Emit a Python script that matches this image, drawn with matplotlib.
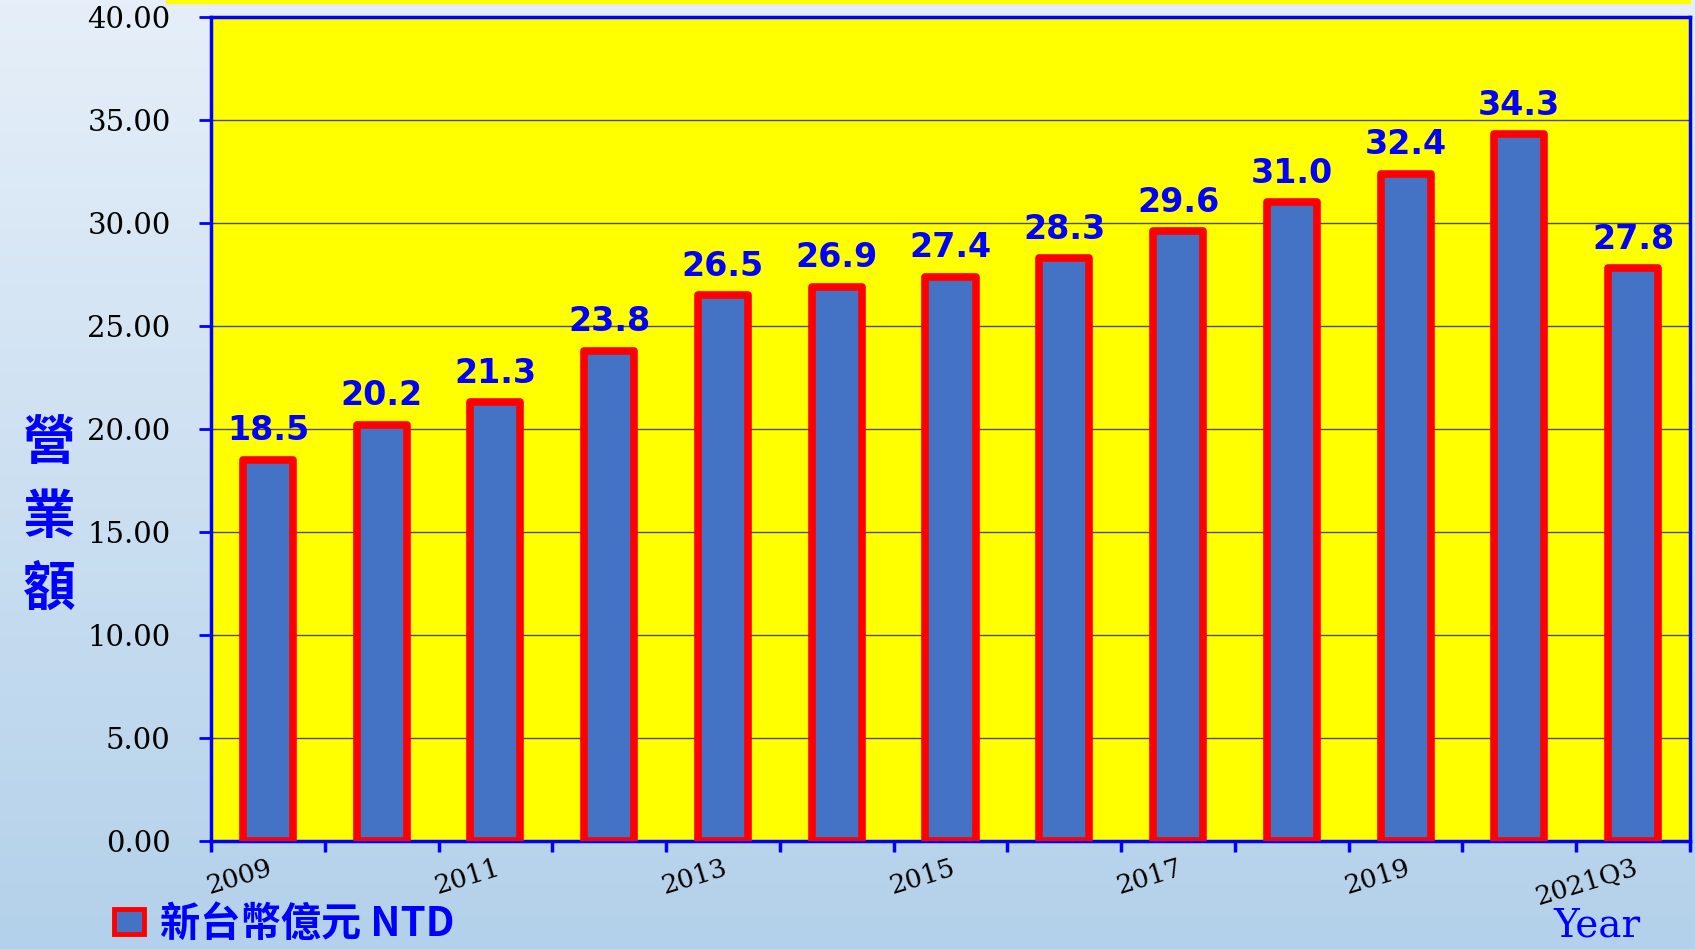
import numpy as np
import matplotlib
matplotlib.use("Agg")
import matplotlib.pyplot as plt
from matplotlib.patches import Patch, Rectangle
from matplotlib.ticker import FixedLocator, NullFormatter

# data
years = ["2009", "2010", "2011", "2012", "2013", "2014", "2015",
         "2016", "2017", "2018", "2019", "2020", "2021Q3"]
revenue = [18.5, 20.2, 21.3, 23.8, 26.5, 26.9, 27.4,
           28.3, 29.6, 31.0, 32.4, 34.3, 27.8]
shown_labels = ["2009", "", "2011", "", "2013", "", "2015",
                "", "2017", "", "2019", "", "2021Q3"]
yticks = [0, 5, 10, 15, 20, 25, 30, 35, 40]

cjk = ["Noto Sans CJK TC", "DejaVu Sans"]
blue = "#0000ff"

fig = plt.figure(figsize=(16.95, 9.49), dpi=100)

# background gradient
bg = fig.add_axes([0, 0, 1, 1], zorder=-10)
grad = np.linspace(0, 1, 256).reshape(-1, 1)
top_c = np.array([0xe6, 0xef, 0xf9]) / 255
bot_c = np.array([0xb3, 0xd1, 0xea]) / 255
img = top_c + (bot_c - top_c) * grad[:, :, None]
bg.imshow(img, aspect="auto", extent=[0, 1, 0, 1])
bg.axis("off")
# yellow strip at the very top
fig.patches.append(Rectangle((166 / 1695, 1 - 3 / 949), 1524 / 1695, 3 / 949,
                             transform=fig.transFigure, color="#ffff00", zorder=-5))

ax = fig.add_axes([211 / 1695, 1 - 841 / 949, 1479 / 1695, 824 / 949])
ax.set_facecolor("#ffff00")

x = np.arange(len(years))
ax.bar(x, revenue, width=0.44, color="#4472c4", edgecolor="#ff0000",
       linewidth=5.5, joinstyle="round", zorder=3)

for xi, v in zip(x, revenue):
    ax.annotate(f"{v:.1f}", (xi, v), xytext=(0, 9), textcoords="offset points",
                ha="center", va="bottom", color=blue, fontsize=24,
                fontweight="heavy", family="DejaVu Sans", zorder=4)

ax.set_xlim(-0.5, len(years) - 0.5)
ax.set_ylim(0, 40)
ax.set_yticks(yticks)
ax.set_yticklabels([f"{t:.2f}" for t in yticks], family="DejaVu Serif", fontsize=21)
ax.yaxis.grid(True, color="#4a4a5a", linewidth=1, zorder=1)
ax.set_axisbelow(True)

# ticks on category boundaries, labels on centres
ax.xaxis.set_major_locator(FixedLocator(np.arange(-0.5, len(years), 1.0)))
ax.xaxis.set_major_formatter(NullFormatter())
ax.xaxis.set_minor_locator(FixedLocator(x))
ax.set_xticklabels(shown_labels, minor=True, rotation=17, ha="right",
                   rotation_mode="anchor", family="DejaVu Serif", fontsize=19)
ax.tick_params(axis="x", which="minor", length=0, pad=10)
ax.tick_params(axis="x", which="major", length=8, width=2.5, color=blue)
ax.tick_params(axis="y", length=9, width=2, color=blue, pad=20)

for s in ax.spines.values():
    s.set_color(blue)
    s.set_linewidth(2.5)

# vertical y title
for ch, yy in zip("營業額", [443, 517, 589]):
    fig.text(49 / 1695, 1 - yy / 949, ch, family=cjk, fontsize=38,
             fontweight="bold", color=blue, ha="center", va="center")

fig.text(1597 / 1695, 1 - 926 / 949, "Year", family="DejaVu Serif",
         fontsize=28, color=blue, ha="center", va="center")

handle = Patch(facecolor="#4472c4", edgecolor="#ff0000", linewidth=3.5)
fig.legend([handle], ["新台幣億元 NTD"], loc="center left",
           bbox_to_anchor=(114 / 1695, 1 - 924 / 949), frameon=False,
           handlelength=0.75, handleheight=0.6, handletextpad=0.4,
           borderpad=0, borderaxespad=0,
           prop={"family": cjk, "size": 29, "weight": "bold"},
           labelcolor=blue)

fig.savefig("out.png", dpi=100)
